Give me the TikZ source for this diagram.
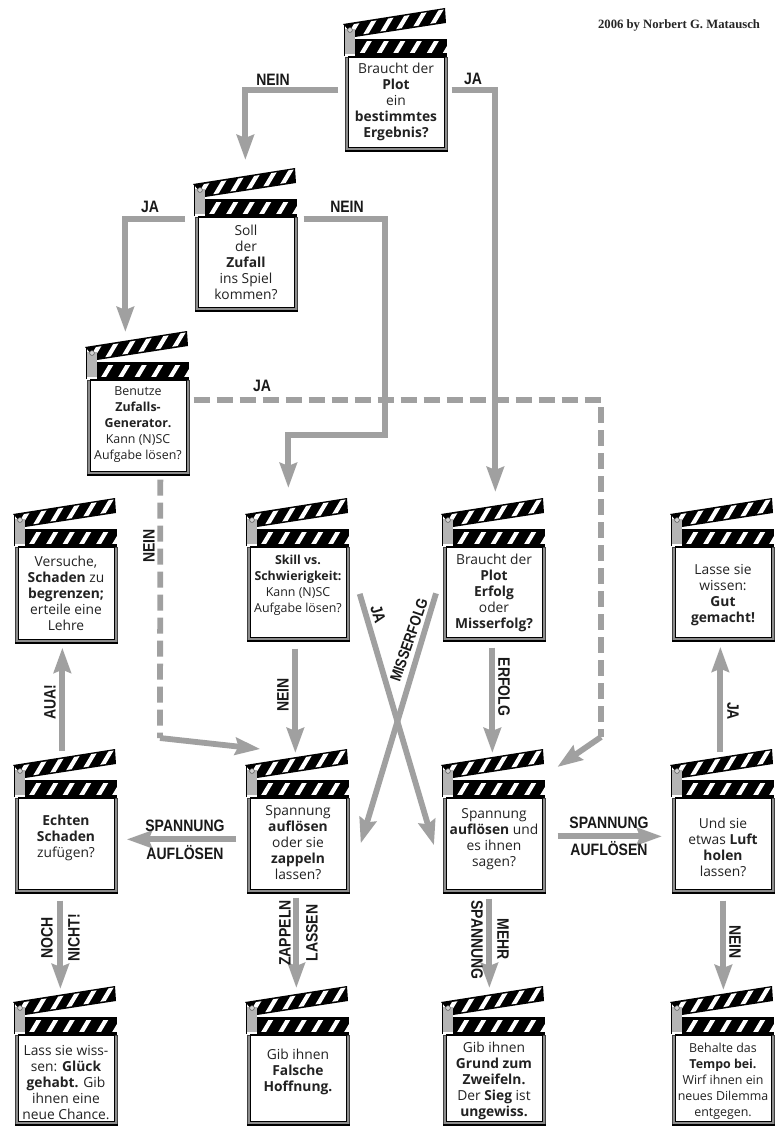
\documentclass[tikz,border=0pt]{standalone}
\usepackage{fontspec}
\setmainfont{Open Sans}
\newfontfamily\labfont[FakeStretch=0.85]{Liberation Sans}
\newfontfamily\credfont{Liberation Serif}
\usetikzlibrary{arrows.meta,calc}
\definecolor{arrowgrey}{HTML}{A0A0A0}
\definecolor{hingegrey}{HTML}{B4B4B4}
\definecolor{framegrey}{HTML}{8C8C8C}
\definecolor{inktext}{HTML}{222222}
\tikzset{
  x=1pt,y=-1pt,
  conn/.style={draw=arrowgrey,line width=5.8pt,line join=miter,-{Stealth[length=25pt,width=17pt,inset=3pt]}},
  dashconn/.style={draw=arrowgrey,line width=5.8pt,dash pattern=on 16pt off 7pt},
  framebox/.style={draw=black!75,fill=framegrey,line width=.7pt,minimum width=102pt,anchor=north west,inner sep=0pt},
  bodytext/.style={align=center,inner sep=0pt,text=inktext},
  lab/.style={font=\labfont\bfseries\fontsize{16.5}{16.5}\selectfont,inner sep=0pt,text=black!90}
}
\newcommand{\normtxt}{\fontsize{13.8}{16}\selectfont}
\newcommand{\smalltxt}{\fontsize{12.4}{16}\selectfont}
% name, L, T, B, text centre y, size, text
\newcommand{\clapbox}[7]{%
  \begin{scope}[shift={(#2,#3)}]
    \fill[black] (-2,-33) -- (100,-49) -- (101,-34) -- (10,-20) -- cycle;
    \begin{scope}
      \clip (0,-31.5) -- (99,-47.5) -- (100,-35.5) -- (10,-21.5) -- cycle;
      \foreach \a in {1,18,35,51,68,85}{
        \pgfmathsetmacro\yb{-20-0.155*(\a-10)}
        \draw[white,line width=4.2pt] (\a,\yb+3) -- (\a+12.6,\yb-18);
      }
    \end{scope}
    \fill[black] (10,-18) rectangle (102,1);
    \begin{scope}
      \clip (10,-15) rectangle (102,-4);
      \foreach \a in {16,33,49.5,66,83,99}{
        \draw[white,line width=4.2pt] (\a,-2) -- (\a+9.6,-18);
      }
    \end{scope}
    \fill[hingegrey] (-1,-28) rectangle (10,-3);
    \draw[black,line width=.5pt] (-1,-32) -- (-1,-1);
    \draw[black!70,line width=.5pt,fill=hingegrey!60] (5,-27) circle (2.4);
  \end{scope}
  \node[framebox,minimum height={#4-#3}] (#1) at (#2,#3) {};
  \fill[white,draw=black,line width=1.3pt] ($(#1.north west)+(3.5,0)$) rectangle ($(#1.south east)+(-3.5,-4.5)$);
  \draw[black,line width=1.3pt] ($(#1.south west)+(0,-.6)$) -- ($(#1.south east)+(0,-.6)$);
  \node[bodytext,font=#6] (#1t) at (#2+51,#5) {#7};
}
\begin{document}
\begin{tikzpicture}
\useasboundingbox (0,0) rectangle (774,1126);
\fill[white] (0,0) rectangle (774,1126);

\node[font=\credfont\bfseries\fontsize{12.7}{14}\selectfont,inner sep=0pt,text=black!85] (credit) at (679,25) {2006 by Norbert G. Matausch};

\clapbox{a}{345}{57}{151}{102}{\normtxt}{Braucht der\\\textbf{Plot}\\ein\\\textbf{bestimmtes}\\\textbf{Ergebnis?}}
\clapbox{b}{195}{217}{311}{262.5}{\normtxt}{Soll\\der\\\textbf{Zufall}\\ins Spiel\\kommen?}
\clapbox{c}{87}{380}{475}{425}{\smalltxt}{Benutze\\\textbf{Zufalls-}\\\textbf{Generator.}\\Kann (N)SC\\Aufgabe lösen?}
\clapbox{d}{15}{547}{643}{593}{\normtxt}{Versuche,\\\textbf{Schaden} zu\\\textbf{begrenzen;}\\erteile eine\\Lehre}
\clapbox{e}{247}{547}{641}{585}{\smalltxt}{\textbf{Skill vs.}\\\textbf{Schwierigkeit:}\\Kann (N)SC\\Aufgabe lösen?}
\clapbox{f}{443}{547}{641}{593}{\normtxt}{Braucht der\\\textbf{Plot}\\\textbf{Erfolg}\\oder\\\textbf{Misserfolg?}}
\clapbox{g}{672}{547}{641}{595}{\normtxt}{Lasse sie\\wissen:\\\textbf{Gut}\\\textbf{gemacht!}}
\clapbox{h}{15}{798}{893}{838}{\normtxt}{\textbf{Echten}\\\textbf{Schaden}\\zufügen?}
\clapbox{i}{247}{798}{893}{843}{\normtxt}{Spannung\\\textbf{auflösen}\\oder sie\\\textbf{zappeln}\\lassen?}
\clapbox{j}{443}{798}{893}{839}{\normtxt}{Spannung\\\textbf{auflösen} und\\es ihnen\\sagen?}
\clapbox{k}{672}{798}{893}{847}{\normtxt}{Und sie\\etwas \textbf{Luft}\\\textbf{holen}\\lassen?}
\clapbox{l}{15}{1035}{1125}{1082.5}{\normtxt}{Lass sie wiss-\\sen: \textbf{Glück}\\\textbf{gehabt.} Gib\\ihnen eine\\neue Chance.}
\clapbox{m}{247}{1035}{1125}{1072}{\normtxt}{Gib ihnen\\\textbf{Falsche}\\\textbf{Hoffnung.}}
\clapbox{n}{443}{1035}{1125}{1081}{\normtxt}{Gib ihnen\\\textbf{Grund zum}\\\textbf{Zweifeln.}\\Der \textbf{Sieg} ist\\\textbf{ungewiss.}}
\clapbox{o}{672}{1035}{1125}{1081}{\smalltxt}{Behalte das\\\textbf{Tempo bei.}\\Wirf ihnen ein\\neues Dilemma\\entgegen.}

% connectors
\draw[conn] ([shift={(-7,-14)}]a.west) -| ([shift={(-1,-57)}]b.north);
\draw[conn] ([shift={(4,-14)}]a.east) -| ([shift={(1,-55)}]f.north);
\draw[conn] ([shift={(-10,-45)}]b.west) -| ([shift={(-13,-48)}]c.north);
\coordinate (turnb) at (385,435);
\draw[conn] ([shift={(6,-45)}]b.east) -| (turnb) -| ([shift={(-10,-59)}]e.north);
\coordinate (cornerja) at (601,737);
\draw[dashconn] ([shift={(4,-27.5)}]c.east) -| (cornerja);
\draw[conn] (cornerja) -- ([shift={(63,-31)}]j.north);
\coordinate (cornernein) at (160,738);
\draw[dashconn] ([shift={(22,4)}]c.south) -- (cornernein);
\draw[conn] (cornernein) -- ([shift={(-38,-49)}]i.north);
\draw[conn] ([shift={(-3,7)}]e.south) -- ([shift={(-3,-45)}]i.north);
\draw[conn] ([shift={(-2,6)}]f.south) -- ([shift={(-2,-45)}]j.north);
\draw[conn] ([shift={(10,-.5)}]e.east) -- ([shift={(-9,-.5)}]j.west);
\draw[conn] ([shift={(-7,-1)}]f.west) -- ([shift={(11,-2.5)}]i.east);
\draw[conn] ([shift={(-11,-6.5)}]i.west) -- ([shift={(9,-6.5)}]h.east);
\draw[conn] ([shift={(12,-9.5)}]j.east) -- ([shift={(-10,-9.5)}]k.west);
\draw[conn] ([shift={(-4,-47)}]h.north) -- ([shift={(-4,4)}]d.south);
\draw[conn] ([shift={(-3,-46)}]k.north) -- ([shift={(-3,5)}]g.south);
\draw[conn] ([shift={(-6,7)}]h.south) -- ([shift={(-6,-46)}]l.north);
\draw[conn] ([shift={(-2,4)}]i.south) -- ([shift={(-2,-47)}]m.north);
\draw[conn] ([shift={(-5,5)}]j.south) -- ([shift={(-5,-47)}]n.north);
\draw[conn] ([shift={(0,7)}]k.south) -- ([shift={(0,-45)}]o.north);

% labels
\node[lab] (l1) at (273,80) {NEIN};
\node[lab] (l2) at (473,79) {JA};
\node[lab] (l3) at (150,207) {JA};
\node[lab] (l4) at (347,207) {NEIN};
\node[lab] (l5) at (262,386) {JA};
\node[lab,rotate=90] (l6) at (149,546) {NEIN};
\node[lab,rotate=90] (l7) at (283,695) {NEIN};
\node[lab,rotate=-73] (l8) at (378,614) {JA};
\node[lab,rotate=71,font=\labfont\bfseries\fontsize{15.5}{15.5}\selectfont] (l9) at (409,640) {MISSERFOLG};
\node[lab,rotate=-90] (l10) at (504,687) {ERFOLG};
\node[lab,rotate=-90] (l11) at (733,711) {JA};
\node[lab,rotate=90] (l12) at (50,702) {AUA!};
\node[lab] (l13) at (185,826) {SPANNUNG};
\node[lab] (l14) at (185,853) {AUFLÖSEN};
\node[lab] (l15) at (609,823) {SPANNUNG};
\node[lab] (l16) at (609,849) {AUFLÖSEN};
\node[lab,rotate=90] (l17) at (47,938) {NOCH};
\node[lab,rotate=90] (l18) at (74,938) {NICHT!};
\node[lab,rotate=90] (l19) at (285,933) {ZAPPELN};
\node[lab,rotate=90] (l20) at (312,933) {LASSEN};
\node[lab,rotate=-90] (l21) at (477,940) {SPANNUNG};
\node[lab,rotate=-90] (l22) at (503,939) {MEHR};
\node[lab,rotate=-90] (l23) at (735,942) {NEIN};
\end{tikzpicture}
\end{document}
